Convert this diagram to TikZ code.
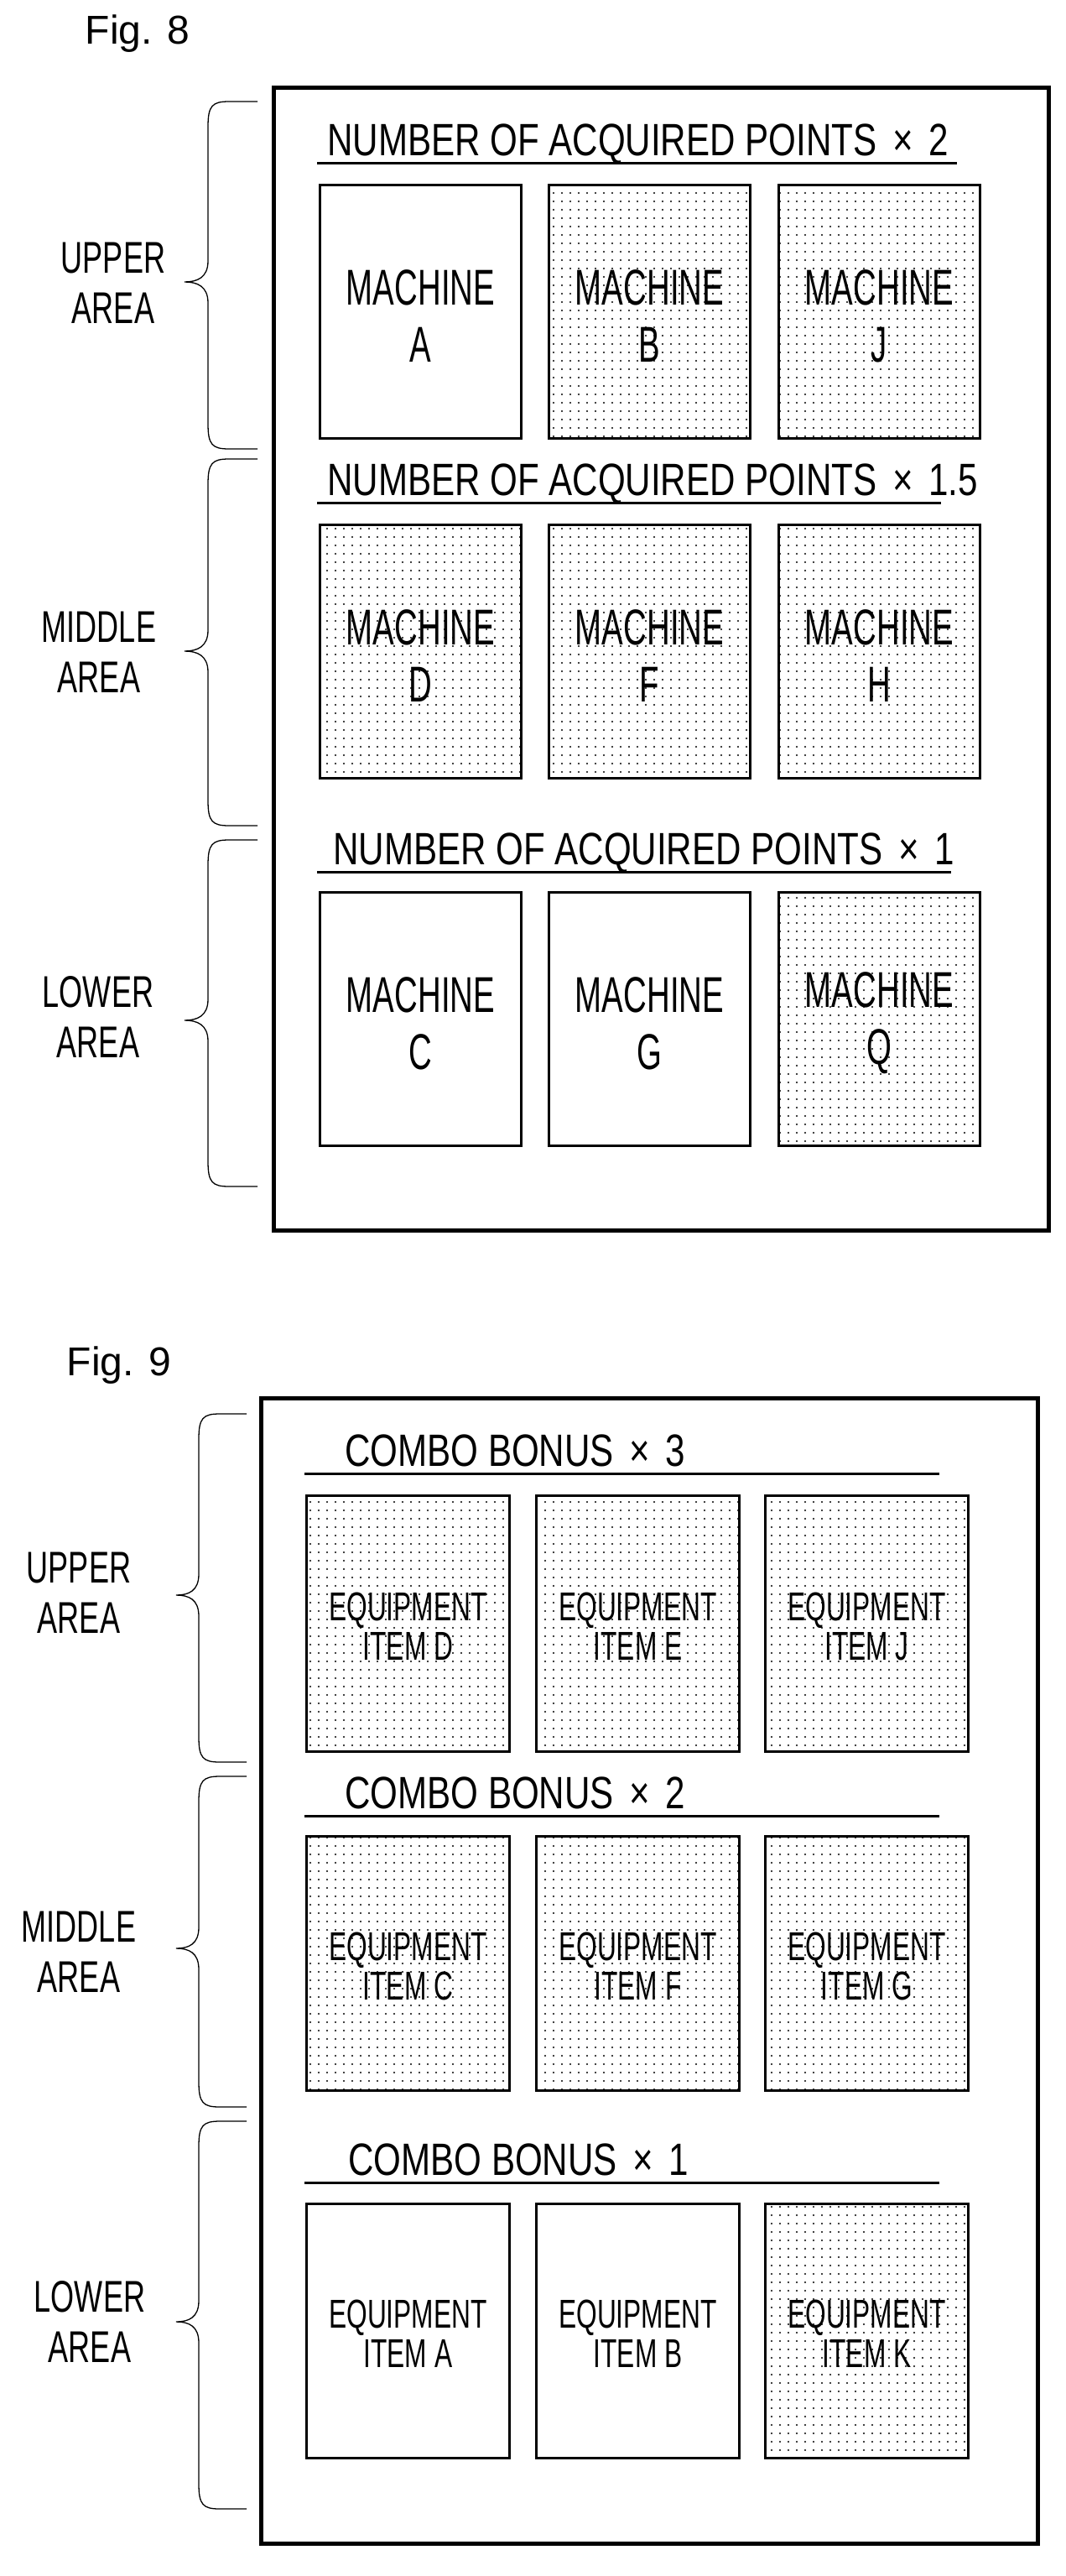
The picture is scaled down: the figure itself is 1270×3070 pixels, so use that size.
\documentclass[tikz,border=0pt]{standalone}
\usepackage{fontspec}
\setmainfont{Liberation Sans}
\usetikzlibrary{patterns.meta}
\newcommand{\nr}[2][0.68]{\scalebox{#1}[1]{#2}}
\begin{document}
\begin{tikzpicture}[x=1pt,y=-1pt,
  frame/.style={line width=5pt},
  cell/.style={draw,line width=3pt,anchor=north west,inner sep=0pt},
  dotted cell/.style={cell,pattern={Dots[distance=10pt,radius=1.1pt]}},
  uline/.style={line width=3pt},
  brace/.style={line width=1.3pt},
  ttl/.style={font=\fontsize{54}{54}\selectfont,anchor=base west,inner sep=0pt},
  mtxt/.style={font=\fontsize{60}{68}\selectfont,align=center,inner sep=0pt},
  etxt/.style={font=\fontsize{48}{47}\selectfont,align=center,inner sep=0pt},
  lab/.style={font=\fontsize{53}{60}\selectfont,align=center,inner sep=0pt},
  fig/.style={font=\fontsize{48}{48}\selectfont,inner sep=0pt}]
\useasboundingbox (0,0) rectangle (1270,3070);
\fill[white] (0,0) rectangle (1270,3070);
\newcommand{\mybrace}[6]{% xend xtip ytop ytip ybot xvert
  \draw[brace] (#1,#3) -- (#6+25,#3) .. controls (#6+5,#3) and (#6,#3+5) .. (#6,#3+30) -- (#6,#4-25) .. controls (#6,#4-5) and (#2+15,#4) .. (#2,#4) .. controls (#2+15,#4) and (#6,#4+5) .. (#6,#4+25) -- (#6,#5-30) .. controls (#6,#5-5) and (#6+5,#5) .. (#6+25,#5) -- (#1,#5);}
\newcommand{\mcell}[5]{% name style x y label
  \node[#2,minimum width=240pt,minimum height=302pt] (#1) at (#3,#4) {};
  \node[mtxt] at ([yshift=-5pt]#1.center) {\nr[0.64]{MACHINE}\\\nr[0.64]{#5}};}
\newcommand{\ecell}[6]{% name style x y label height
  \node[#2,minimum width=242pt,minimum height=#6pt] (#1) at (#3,#4) {};
  \node[etxt] at ([yshift=-3pt]#1.center) {\nr[0.66]{EQUIPMENT}\\\nr[0.66]{#5}};}
% ---------- Fig 8 ----------
\node[fig] (f8) at (164,40) {Fig. 8};
\draw[frame] (326,104) rectangle (1250,1466);
\mybrace{307}{220}{121}{336}{535}{248}
\mybrace{307}{220}{547}{776}{984}{248}
\mybrace{307}{220}{1001}{1216}{1414}{248}
\node[lab] (u8) at (135,337) {\nr{UPPER}\\\nr{AREA}};
\node[lab] (m8) at (118,777) {\nr{MIDDLE}\\\nr{AREA}};
\node[lab] (l8) at (117,1212) {\nr{LOWER}\\\nr{AREA}};
\node[ttl] (t81) at (390,185) {\nr[0.78]{NUMBER OF ACQUIRED POINTS\, ×\, 2}};
\draw[uline] (378,194) -- (1141,194);
\node[ttl] (t82) at (390,590) {\nr[0.78]{NUMBER OF ACQUIRED POINTS\, ×\, 1.5}};
\draw[uline] (378,599) -- (1122,599);
\node[ttl] (t83) at (397,1030) {\nr[0.78]{NUMBER OF ACQUIRED POINTS\, ×\, 1}};
\draw[uline] (378,1039) -- (1134,1039);
\mcell{mA}{cell}{380}{219}{A}
\mcell{mB}{dotted cell}{653}{219}{B}
\mcell{mJ}{dotted cell}{927}{219}{J}
\mcell{mD}{dotted cell}{380}{624}{D}
\mcell{mF}{dotted cell}{653}{624}{F}
\mcell{mH}{dotted cell}{927}{624}{H}
\mcell{mC}{cell}{380}{1062}{C}
\mcell{mG}{cell}{653}{1062}{G}
\mcell{mQ}{dotted cell}{927}{1062}{Q}
% ---------- Fig 9 ----------
\node[fig] (f9) at (142,1627) {Fig. 9};
\draw[frame] (311,1666) rectangle (1237,3031);
\mybrace{294}{210}{1685}{1901}{2100}{237}
\mybrace{294}{210}{2117}{2322}{2511}{237}
\mybrace{294}{210}{2528}{2767}{2990}{237}
\node[lab] (u9) at (94,1898) {\nr{UPPER}\\\nr{AREA}};
\node[lab] (m9) at (94,2326) {\nr{MIDDLE}\\\nr{AREA}};
\node[lab] (l9) at (107,2767) {\nr{LOWER}\\\nr{AREA}};
\node[ttl] (t91) at (411,1747) {\nr[0.78]{COMBO BONUS\, ×\, 3}};
\draw[uline] (363,1756) -- (1120,1756);
\node[ttl] (t92) at (411,2155) {\nr[0.78]{COMBO BONUS\, ×\, 2}};
\draw[uline] (363,2164) -- (1120,2164);
\node[ttl] (t93) at (415,2592) {\nr[0.78]{COMBO BONUS\, ×\, 1}};
\draw[uline] (363,2601) -- (1120,2601);
\ecell{eD}{dotted cell}{364}{1781}{ITEM D}{305}
\ecell{eE}{dotted cell}{638}{1781}{ITEM E}{305}
\ecell{eJ}{dotted cell}{911}{1781}{ITEM J}{305}
\ecell{eC}{dotted cell}{364}{2187}{ITEM C}{303}
\ecell{eF}{dotted cell}{638}{2187}{ITEM F}{303}
\ecell{eG}{dotted cell}{911}{2187}{ITEM G}{303}
\ecell{eA}{cell}{364}{2625}{ITEM A}{303}
\ecell{eB}{cell}{638}{2625}{ITEM B}{303}
\ecell{eK}{dotted cell}{911}{2625}{ITEM K}{303}
\end{tikzpicture}
\end{document}
